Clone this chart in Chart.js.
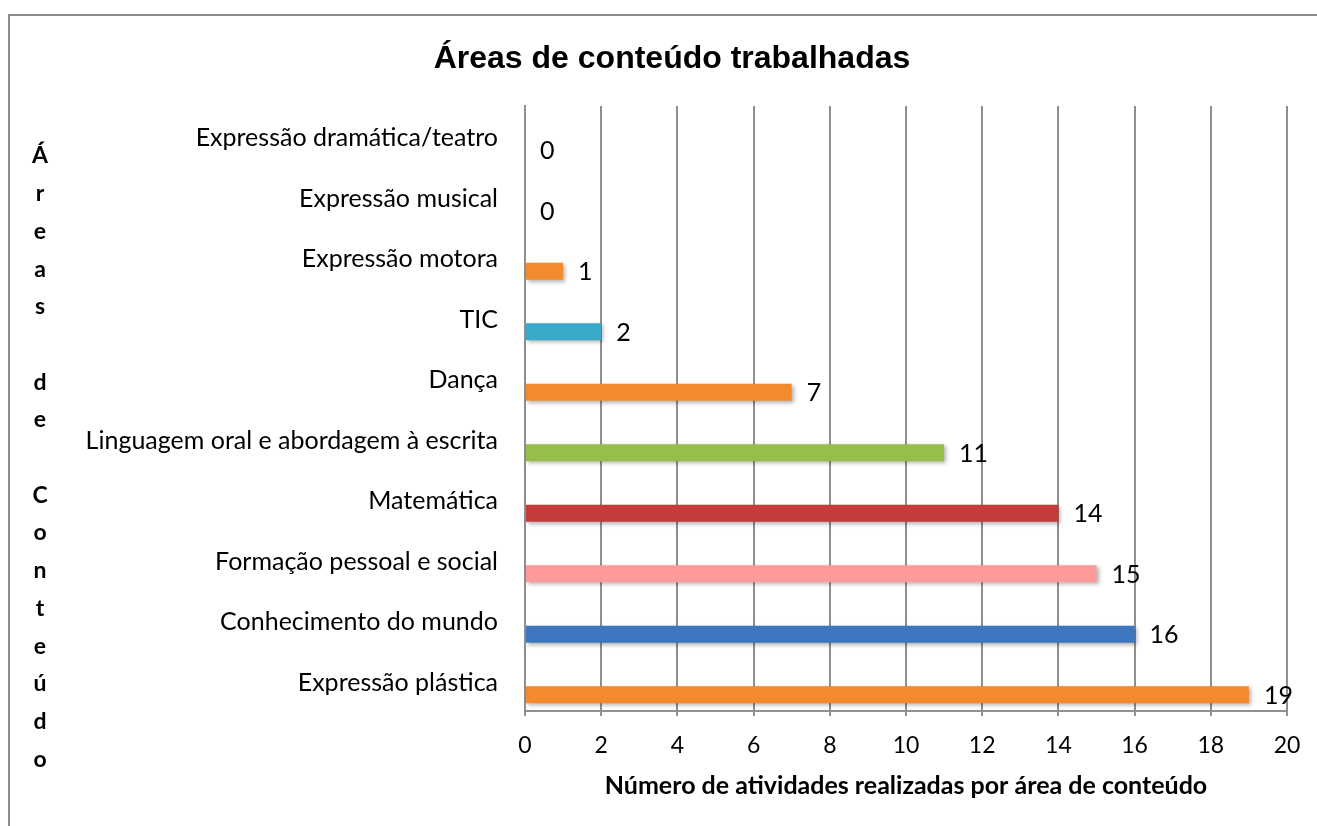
<!DOCTYPE html>
<html>
<head>
    <title>Áreas de conteúdo trabalhadas</title>
    <script src="https://cdn.jsdelivr.net/npm/chart.js"></script>
    <style>
        body {
            margin: 0;
            background: #fff;
        }

        #wrap {
            position: relative;
            width: 1317px;
            height: 826px;
        }

        #frame {
            position: absolute;
            left: 8px;
            top: 14px;
            right: 0;
            bottom: 0;
            border-top: 2px solid #8c8c8c;
            border-left: 2px solid #8c8c8c;
            pointer-events: none;
        }
    </style>
</head>
<body>
    <div id="wrap">
        <canvas id="areasChart" width="1317" height="826"></canvas>
        <div id="frame"></div>
    </div>
    <script>
        const categories = [
            'Expressão dramática/teatro',
            'Expressão musical',
            'Expressão motora',
            'TIC',
            'Dança',
            'Linguagem oral e abordagem à escrita',
            'Matemática',
            'Formação pessoal e social',
            'Conhecimento do mundo',
            'Expressão plástica'
        ];
        const activityCounts = [0, 0, 1, 2, 7, 11, 14, 15, 16, 19];
        const emptySeries = [null, null, null, null, null, null, null, null, null, null];
        const barColors = [
            '#f38a2e', '#f38a2e', '#f38a2e', '#38a9c9', '#f38a2e',
            '#97be49', '#c43c3a', '#ff9a9a', '#3d77c0', '#f38a2e'
        ];
        const xTickValues = [0, 2, 4, 6, 8, 10, 12, 14, 16, 18, 20];
        const chartTitle = 'Áreas de conteúdo trabalhadas';
        const xTitle = 'Número de atividades realizadas por área de conteúdo';
        const yTitle = 'Áreas de Conteúdo';

        const bodyFont = 'Lato';

        // soft drop shadow under the bars, like the office chart
        const barShadow = {
            id: 'barShadow',
            beforeDatasetDraw(chart) {
                const ctx = chart.ctx;
                ctx.save();
                ctx.shadowColor = 'rgba(0, 0, 0, 0.3)';
                ctx.shadowBlur = 4;
                ctx.shadowOffsetX = 2;
                ctx.shadowOffsetY = 2;
            },
            afterDatasetDraw(chart) {
                chart.ctx.restore();
            }
        };

        // value next to the end of each bar
        const valueLabels = {
            id: 'valueLabels',
            afterDatasetsDraw(chart) {
                const meta = chart.getDatasetMeta(1);
                const ctx = chart.ctx;
                ctx.save();
                ctx.font = '25px ' + bodyFont;
                ctx.fillStyle = '#000';
                ctx.textAlign = 'left';
                ctx.textBaseline = 'middle';
                meta.data.forEach((bar, i) => {
                    ctx.fillText(String(activityCounts[i]), bar.x + 15, bar.y + 1);
                });
                ctx.restore();
            }
        };

        // y axis title written one letter per line
        const stackedYTitle = {
            id: 'stackedYTitle',
            afterDraw(chart) {
                const ctx = chart.ctx;
                ctx.save();
                ctx.font = 'bold 23px ' + bodyFont;
                ctx.fillStyle = '#000';
                ctx.textAlign = 'center';
                ctx.textBaseline = 'middle';
                const top = 156;
                const step = 37.7;
                Array.from(yTitle).forEach((ch, i) => {
                    if (ch !== ' ') ctx.fillText(ch, 40, top + i * step);
                });
                ctx.restore();
            }
        };

        const ctx = document.getElementById('areasChart').getContext('2d');
        const chart = new Chart(ctx, {
            type: 'bar',
            data: {
                labels: categories,
                datasets: [{
                    label: 'vazio',
                    data: emptySeries,
                    backgroundColor: barColors
                }, {
                    label: 'Atividades',
                    data: activityCounts,
                    backgroundColor: barColors,
                    borderColor: barColors,
                    borderWidth: 0
                }]
            },
            options: {
                indexAxis: 'y',
                responsive: false,
                animation: false,
                categoryPercentage: 0.925,
                barPercentage: 0.6,
                layout: {
                    padding: { left: 57, right: 30, top: 0, bottom: 0 }
                },
                plugins: {
                    legend: { display: false },
                    tooltip: { enabled: false },
                    title: {
                        display: true,
                        text: chartTitle,
                        color: '#000',
                        font: { family: 'Liberation Sans', size: 32, weight: 'bold' },
                        padding: { top: 40, bottom: 27.6 }
                    }
                },
                scales: {
                    x: {
                        min: 0,
                        max: 20,
                        afterBuildTicks: (scale) => {
                            scale.ticks = xTickValues.map(v => ({ value: v }));
                        },
                        afterFit: (scale) => { scale.height = 115; },
                        grid: {
                            color: '#8f8f8f',
                            lineWidth: 2,
                            drawTicks: true,
                            tickLength: 5
                        },
                        border: { display: true, color: '#8f8f8f', width: 2 },
                        ticks: {
                            color: '#000',
                            padding: 16,
                            font: { family: bodyFont, size: 23 }
                        },
                        title: {
                            display: true,
                            text: xTitle,
                            color: '#000',
                            font: { family: bodyFont, size: 25, weight: 'bold' },
                            padding: { top: 0, bottom: 25 }
                        }
                    },
                    y: {
                        afterFit: (scale) => { scale.width = 468; },
                        grid: { display: false, drawTicks: false },
                        border: { display: true, color: '#8f8f8f', width: 2 },
                        ticks: {
                            color: '#000',
                            padding: 27,
                            labelOffset: 2,
                            font: { family: bodyFont, size: 25 }
                        }
                    }
                }
            },
            plugins: [barShadow, valueLabels, stackedYTitle]
        });
    </script>
</body>
</html>
